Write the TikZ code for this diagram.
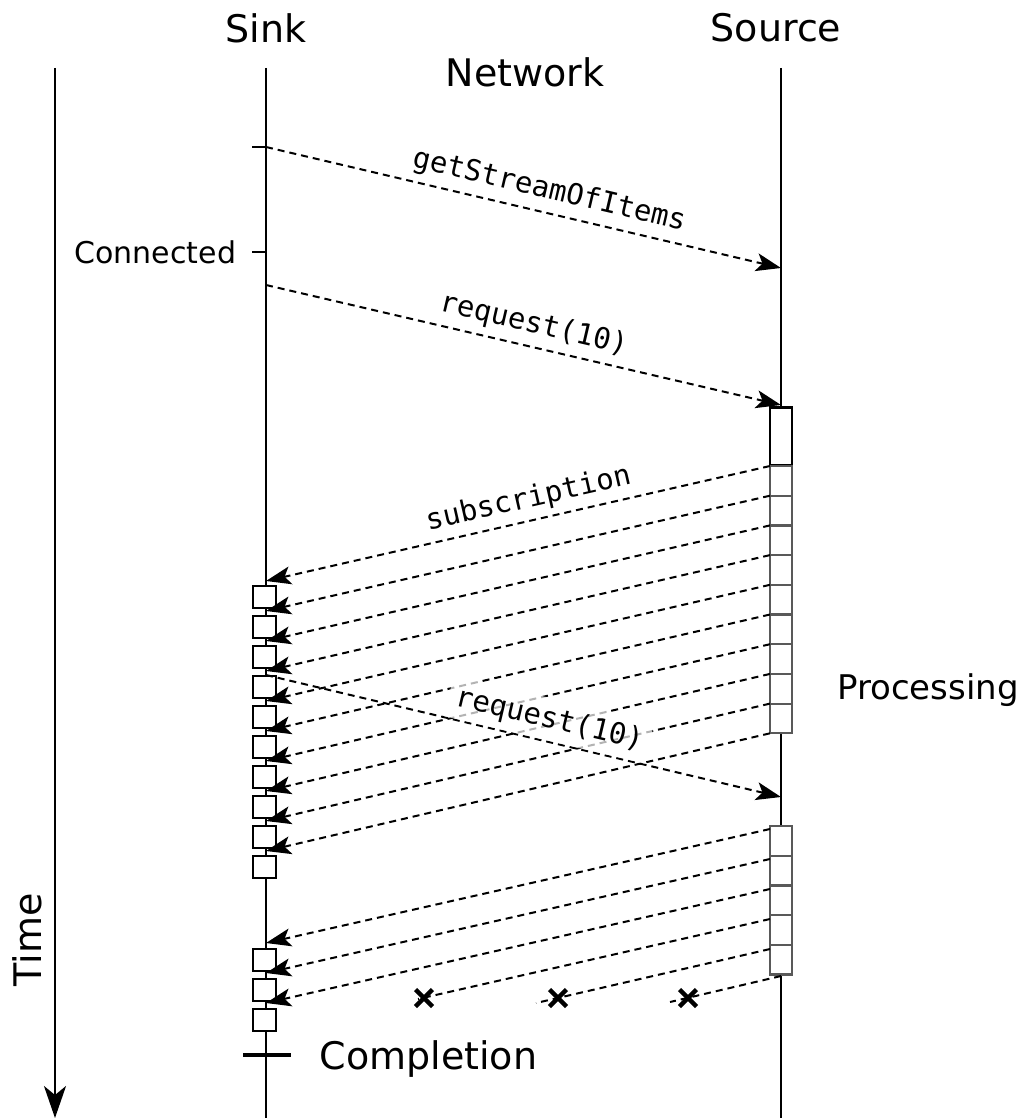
\documentclass[tikz,border=0pt]{standalone}
\usepackage{fontspec}
\setmainfont{DejaVu Sans}
\setmonofont{DejaVu Sans Mono}
\usetikzlibrary{arrows.meta}
\usetikzlibrary{math, calc}

\tikzset{
  msg/.style={line width=2, dash pattern=on 7pt off 5pt,
    -{Stealth[length=25pt,width=18pt,inset=6pt]}},
  lost/.style={line width=2, dash pattern=on 7pt off 5pt},
  lbl/.style={font=\fontsize{29}{34}\selectfont\ttfamily, sloped, above, inner sep=7pt},
  big/.style={font=\fontsize{38}{44}\selectfont},
  small/.style={font=\fontsize{30}{35}\selectfont},
  sinkbox/.style={draw, line width=2.5, fill=white, minimum width=23pt, minimum height=22pt, inner sep=0pt},
  srcbox/.style={draw=black!65, line width=2.2, fill=white, minimum width=22pt, minimum height=29.7pt, inner sep=0pt},
}

\begin{document}
\begin{tikzpicture}[x=1pt,y=-1pt]
\tikzmath{
\xk=266;
\xs=781;
\ytop=68;
\ybot=1118;
}
\useasboundingbox (0,0) rectangle (1022,1118);

% headers
\node[big] (sink) at (\xk,28) {Sink};
\node[big] (source) at (776,28) {Source};
\node[big] (net) at (525,72) {Network};

% time axis and lifelines
\coordinate (t0) at (55,\ytop);
\coordinate (t1) at (55,\ybot);
\draw[line width=2.5, -{Stealth[length=32pt,width=22pt,inset=9pt]}] (t0) -- (t1);
\node[big, rotate=90] (time) at (27,940) {Time};
\draw[line width=2.5] (\xk,\ytop) -- (\xk,\ybot);
\draw[line width=2.5] (\xs,\ytop) -- (\xs,\ybot);

% connection
\coordinate (k0) at (\xk,147);
\coordinate (s0) at (\xs,268);
\draw[line width=1.8] (k0) -- +(-14,0);
\draw[msg] (k0) -- (s0) node[lbl, pos=0.54]{getStreamOfItems};
\coordinate (kc) at (\xk,252);
\draw[line width=1.8] (kc) -- +(-14,0) node[small, left, inner sep=15pt] (conn) {Connected};

\coordinate (k1) at (\xk,285);
\coordinate (s1) at (\xs,405);
\draw[msg] (k1) -- (s1) node[lbl, pos=0.51]{request(10)};

% processing at the source
\node[draw, line width=2.5, fill=white, minimum width=22pt, minimum height=58pt, inner sep=0pt] (sp) at (\xs,436.5) {};
\foreach \i in {0,...,8}
  \node[srcbox] (sb\i) at (\xs,{480.85+29.7*\i}) {};
\node[small, font=\fontsize{34}{40}\selectfont] (proc) at (928,690) {Processing};

% sink items
\foreach \i in {0,...,9}
  \node[sinkbox] (kb\i) at (264.5,{597+30*\i}) {};

% items of the first batch
\foreach \i in {0,...,9}{
  \coordinate (a\i) at (770,{466+29.7*\i});
  \coordinate (b\i) at (\xk,{581+30*\i});
  \draw[msg] (a\i) -- (b\i);
}
\path (a0) -- (b0) node[lbl, pos=0.47]{subscription};

% second request
\coordinate (k2) at (\xk,675);
\coordinate (s2) at (\xs,797);
\draw[msg] (k2) -- (s2) node[lbl, pos=0.54, fill=white, fill opacity=0.7, text opacity=1]{request(10)};

% second batch
\foreach \i in {0,...,4}
  \node[srcbox] (sc\i) at (\xs,{840.9+29.7*\i}) {};
\foreach \i in {0,1,2}
  \node[sinkbox] (kd\i) at (264.5,{960+30*\i}) {};
\foreach \i in {0,1,2}{
  \coordinate (c\i) at (770,{829+30*\i});
  \coordinate (d\i) at (\xk,{943+30*\i});
  \draw[msg] (c\i) -- (d\i);
}

% lost items
\coordinate (x0) at (424,998);
\coordinate (x1) at (558,998);
\coordinate (x2) at (688,998);
\coordinate (c3) at (770,919);
\coordinate (c4) at (770,949);
\coordinate (c5) at (\xs,976);
\draw[lost] (c3) -- ($(x0)+(-6,1)$);
\draw[lost] (c4) -- ($(x1)+(-22,5)$);
\draw[lost] (c5) -- ($(x2)+(-18,4)$);
\foreach \p in {x0,x1,x2}{
  \draw[line width=4.5] ($(\p)+(-8.5,-8.5)$) -- ($(\p)+(8.5,8.5)$);
  \draw[line width=4.5] ($(\p)+(-8.5,8.5)$) -- ($(\p)+(8.5,-8.5)$);
}

% completion
\coordinate (e) at (\xk,1055);
\draw[line width=4.5] ($(e)+(-23,0)$) -- ($(e)+(25,0)$);
\node[big, anchor=west] (compl) at (316,1059) {Completion};

\end{tikzpicture}
\end{document}
